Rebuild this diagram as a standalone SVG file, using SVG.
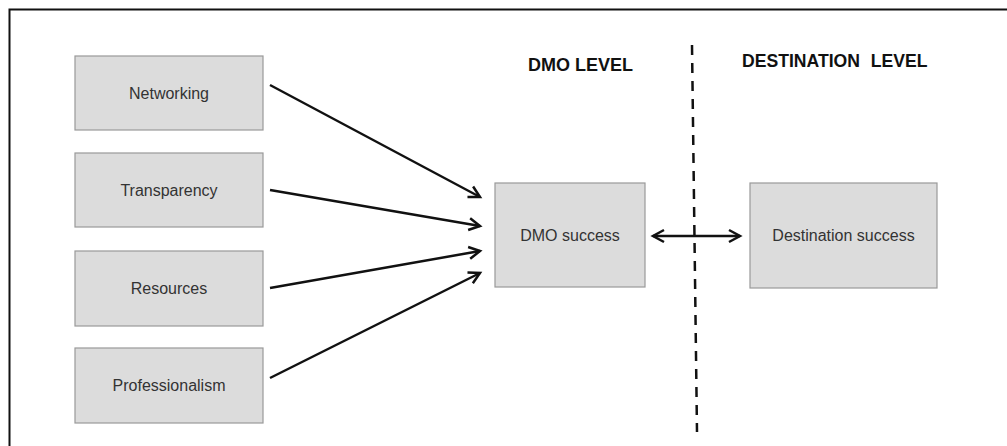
<svg xmlns="http://www.w3.org/2000/svg" width="1007" height="446" viewBox="0 0 1007 446">
<style>
.box{fill:#dcdcdc;stroke:#999;stroke-width:1.2}
.lbl{font-family:"Liberation Sans",Arial,sans-serif;font-size:16px;fill:#333;text-anchor:middle}
.hdr{font-family:"Liberation Sans",Arial,sans-serif;font-size:18px;font-weight:bold;fill:#111}
.con{stroke:#111;stroke-width:2.5;fill:none}
</style>
<defs>
<marker id="ah" markerUnits="userSpaceOnUse" markerWidth="16" markerHeight="16" refX="12" refY="7" orient="auto-start-reverse" viewBox="0 0 16 14">
<path d="M1,1 L12,7 L1,13" fill="none" stroke="#111" stroke-width="2.5" stroke-linejoin="miter"/>
</marker>
</defs>
<rect width="1007" height="446" fill="#fff"/>
<path d="M9.5,446 V9.5 H1007" fill="none" stroke="#111" stroke-width="2"/>
<text class="hdr" x="528" y="71">DMO LEVEL</text>
<text class="hdr" x="742" y="67" style="font-size:17.6px" word-spacing="6">DESTINATION LEVEL</text>
<g id="n-networking"><rect class="box" x="75" y="56" width="188" height="74"/><text class="lbl" x="169" y="99">Networking</text></g>
<g id="n-transparency"><rect class="box" x="75" y="153" width="188" height="74"/><text class="lbl" x="169" y="196">Transparency</text></g>
<g id="n-resources"><rect class="box" x="75" y="251" width="188" height="75"/><text class="lbl" x="169" y="294">Resources</text></g>
<g id="n-professionalism"><rect class="box" x="75" y="348" width="188" height="75"/><text class="lbl" x="169" y="391">Professionalism</text></g>
<g id="n-dmo"><rect class="box" x="495" y="183" width="150" height="104"/><text class="lbl" x="570" y="241">DMO success</text></g>
<g id="n-dest"><rect class="box" x="750" y="183" width="187" height="105"/><text class="lbl" x="843.5" y="241">Destination success</text></g>
<g id="connectors">
<line class="con" x1="270" y1="85" x2="480" y2="197" marker-end="url(#ah)"/>
<line class="con" x1="270" y1="190" x2="480" y2="226" marker-end="url(#ah)"/>
<line class="con" x1="270" y1="288" x2="480" y2="251" marker-end="url(#ah)"/>
<line class="con" x1="270" y1="378" x2="480" y2="273" marker-end="url(#ah)"/>
<line class="con" x1="653" y1="236" x2="740" y2="236" marker-start="url(#ah)" marker-end="url(#ah)"/>
<line x1="692" y1="45" x2="697" y2="432" stroke="#111" stroke-width="2.5" stroke-dasharray="10,8"/>
</g>
</svg>
